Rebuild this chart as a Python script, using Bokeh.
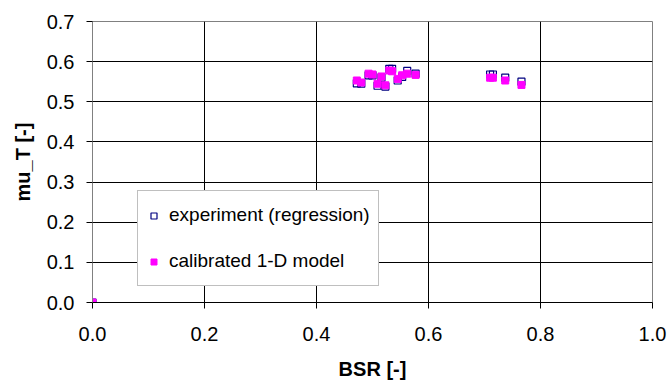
from bokeh.plotting import figure
from bokeh.models import Range1d, Legend, LegendItem, FixedTicker, NumeralTickFormatter
from bokeh.embed import file_html
from bokeh.resources import INLINE

# data
bsr = [0.0, 0.472, 0.480, 0.493, 0.500, 0.509, 0.516, 0.523, 0.530, 0.535,
       0.545, 0.553, 0.562, 0.577, 0.710, 0.715, 0.737, 0.766]
mu_exp = [0.0, 0.546, 0.545, 0.566, 0.566, 0.540, 0.560, 0.538, 0.582, 0.582,
          0.553, 0.562, 0.577, 0.570, 0.568, 0.568, 0.560, 0.550]
mu_model = [0.0, 0.553, 0.548, 0.570, 0.568, 0.545, 0.563, 0.541, 0.578, 0.576,
            0.557, 0.566, 0.570, 0.567, 0.560, 0.560, 0.553, 0.542]
x_ticks = [0.0, 0.2, 0.4, 0.6, 0.8, 1.0]
y_ticks = [0.0, 0.1, 0.2, 0.3, 0.4, 0.5, 0.6, 0.7]

FONT = "Liberation Sans"

p = figure(width=671, height=382, output_backend="svg", toolbar_location=None,
           x_range=Range1d(0, 1.0), y_range=Range1d(0, 0.7),
           min_border_left=92, min_border_right=19, min_border_top=21, min_border_bottom=80,
           background_fill_color="white", border_fill_color="white")
p.outline_line_color = "#808080"
p.outline_line_width = 1

for ax in (p.xaxis[0], p.yaxis[0]):
    ax.major_label_text_font = FONT
    ax.major_label_text_font_size = "20px"
    ax.major_label_text_color = "#000000"
    ax.axis_label_text_font = FONT
    ax.axis_label_text_font_size = "20px"
    ax.axis_label_text_font_style = "bold"
    ax.axis_label_text_color = "#000000"
    ax.major_tick_in = 0
    ax.major_tick_out = 6
    ax.minor_tick_line_color = None
    ax.major_tick_line_color = "#000000"
    ax.formatter = NumeralTickFormatter(format="0.0")

p.xaxis[0].ticker = FixedTicker(ticks=x_ticks)
p.yaxis[0].ticker = FixedTicker(ticks=y_ticks)
p.xaxis[0].axis_line_color = "#000000"
p.yaxis[0].axis_line_color = "#808080"
p.xaxis[0].major_label_standoff = 18
p.yaxis[0].major_label_standoff = 12
p.xaxis[0].axis_label = "BSR [-]"
p.yaxis[0].axis_label = "mu_T [-]"
p.xaxis[0].axis_label_standoff = 14
p.yaxis[0].axis_label_standoff = 10

p.xgrid[0].ticker = FixedTicker(ticks=x_ticks[1:-1])
p.ygrid[0].ticker = FixedTicker(ticks=y_ticks[1:-1])
p.xgrid[0].grid_line_color = "#000000"
p.ygrid[0].grid_line_color = "#000000"
p.xgrid[0].grid_line_width = 1
p.ygrid[0].grid_line_width = 1

r_exp = p.scatter(bsr, mu_exp, marker="square", size=7, fill_color="white",
                  fill_alpha=0.0, line_color="#000080", line_width=1.2)
r_mod = p.scatter(bsr, mu_model, marker="square", size=7, fill_color="#FF00FF",
                  line_color="#FF00FF", line_width=1)

legend = Legend(items=[LegendItem(label="experiment (regression)", renderers=[r_exp]),
                       LegendItem(label="calibrated 1-D model", renderers=[r_mod])],
                location=(45, 16))
legend.label_text_font = FONT
legend.label_text_font_size = "19px"
legend.label_text_color = "#000000"
legend.border_line_color = "#808080"
legend.border_line_width = 1
legend.background_fill_color = "white"
legend.background_fill_alpha = 1.0
legend.padding = 8
legend.spacing = 14
legend.margin = 0
legend.glyph_width = 15
legend.glyph_height = 15
legend.label_standoff = 8
legend.label_height = 32
p.add_layout(legend, "center")

open("out.html", "w").write(file_html(p, INLINE))
